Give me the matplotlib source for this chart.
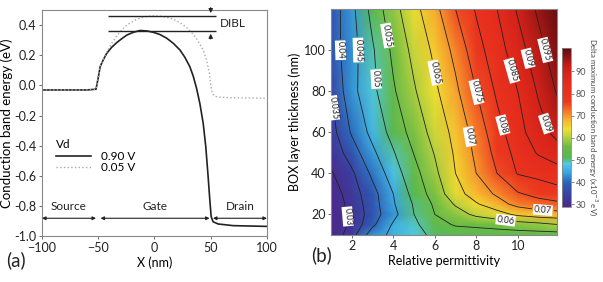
import numpy as np
import matplotlib.pyplot as plt
from matplotlib.colors import LinearSegmentedColormap, Normalize

plt.rcParams['font.family'] = ['Lato', 'DejaVu Sans']
plt.rcParams['axes.edgecolor'] = '#888888'
plt.rcParams['xtick.color'] = '#555555'
plt.rcParams['ytick.color'] = '#555555'
plt.rcParams['xtick.labelcolor'] = '#222222'
plt.rcParams['ytick.labelcolor'] = '#222222'

# (a) conduction band profile along the channel
x_vd090 = [-100, -60, -52, -49.8, -48.3, -45.3, -42.4, -38, -33.5, -29, -24.7, -18.8,
           -12.9, -6.9, -1, 4.9, 10.8, 16.7, 22.6, 27, 31.4, 34.4, 37.4, 40.3, 43.3,
           45.6, 47.7, 49.2, 50.4, 52.1, 56.6, 70, 100]
e_vd090 = [-0.03, -0.03, -0.025, 0.06, 0.125, 0.174, 0.214, 0.254, 0.285, 0.311, 0.334, 0.353,
           0.365, 0.362, 0.353, 0.338, 0.314, 0.28, 0.236, 0.187, 0.125, 0.063, -0.019, -0.118, -0.251,
           -0.406, -0.606, -0.761, -0.871, -0.905, -0.92, -0.931, -0.936]

x_vd005 = [-100, -60, -52, -49.8, -48.3, -45.3, -42.4, -38, -33.5, -29, -24.7, -18.8,
           -12.9, -6.9, -1, 4.9, 10.8, 16.7, 22.6, 28.5, 34.4, 38.8, 43.3, 46.2, 48.6,
           50.1, 51.5, 53.6, 58, 70, 100]
e_vd005 = [-0.03, -0.03, -0.025, 0.06, 0.125, 0.178, 0.222, 0.28, 0.33, 0.37, 0.40, 0.428,
           0.448, 0.458, 0.462, 0.46, 0.453, 0.44, 0.418, 0.385, 0.34, 0.295, 0.235, 0.17, 0.09,
           0.0, -0.055, -0.072, -0.078, -0.082, -0.085]

# (b) delta of maximum conduction band energy (x1e-3 eV)
permittivity = [1, 2, 3, 4, 5, 6, 7, 8, 9, 10, 11, 12]
box_thickness = [10, 15, 20, 25, 30, 40, 50, 60, 80, 100, 120]
delta_e = [
    [26.0, 33.0, 43.0, 46.0, 48.5, 51.0, 52.0, 52.5, 53.0, 53.0, 53.0, 53.0],
    [26.0, 31.0, 39.0, 45.6, 49.0, 53.0, 55.5, 56.0, 56.5, 57.5, 58.5, 60.0],
    [26.0, 31.0, 37.6, 43.5, 50.0, 55.0, 58.0, 61.0, 63.0, 66.0, 67.5, 68.0],
    [26.5, 31.8, 37.8, 44.5, 50.5, 55.8, 60.5, 64.5, 68.0, 71.5, 73.0, 74.0],
    [27.0, 32.6, 38.2, 45.0, 51.7, 57.2, 63.1, 67.3, 70.7, 74.5, 76.5, 78.0],
    [29.5, 34.1, 41.1, 47.6, 53.3, 58.9, 65.0, 70.0, 75.0, 80.3, 81.5, 83.0],
    [31.5, 37.5, 44.0, 49.6, 55.2, 60.3, 65.7, 71.0, 76.5, 81.8, 85.5, 88.0],
    [33.0, 40.6, 46.5, 51.7, 57.0, 61.8, 66.5, 71.9, 78.1, 83.2, 88.0, 92.0],
    [35.0, 43.5, 48.8, 54.4, 59.5, 64.1, 69.0, 75.0, 80.8, 85.0, 90.6, 96.0],
    [37.5, 43.0, 49.4, 56.1, 61.4, 66.0, 71.4, 78.1, 82.9, 87.8, 93.3, 98.5],
    [37.0, 43.7, 51.7, 58.3, 63.5, 68.5, 75.0, 80.5, 85.0, 90.6, 95.9, 100.0],
]
contour_levels = [30, 35, 40, 45, 50, 55, 60, 65, 70, 75, 80, 85, 90, 95]
label_spots = [(1.8, 19), (1.2, 72), (1.55, 100), (2.3, 100), (3.35, 86), (3.65, 107),
               (6.0, 89), (7.75, 58), (8.15, 80), (9.45, 64), (9.7, 90), (10.5, 96),
               (11.3, 64), (11.3, 100), (9.4, 16), (11.2, 21)]

cmap = LinearSegmentedColormap.from_list('igor_rainbow', [
    (0.00, '#4b2a8a'), (0.07, '#3a3fa0'), (0.15, '#2a62b8'), (0.22, '#3aa8e0'),
    (0.27, '#50c8e8'), (0.31, '#58b850'), (0.38, '#6cbc44'), (0.44, '#b8d040'),
    (0.49, '#f0e030'), (0.55, '#f8b030'), (0.61, '#f47028'), (0.66, '#ec3a20'),
    (0.79, '#e42a1c'), (0.89, '#c81e18'), (1.00, '#5a0c10')])
norm = Normalize(vmin=29, vmax=100.5)

fig = plt.figure(figsize=(6.03, 2.82), dpi=100)

# ---------------- (a) ----------------
ax = fig.add_axes([0.0697, 0.163, 0.373, 0.801])
ax.plot(x_vd090, e_vd090, color='#222222', lw=1.2, label='0.90 V')
ax.plot(x_vd005, e_vd005, color='#aaaaaa', lw=1.0, ls=':', label='0.05 V')
ax.set_xlim(-100, 100)
ax.set_ylim(-1.0, 0.5)
ax.set_xticks([-100, -50, 0, 50, 100])
ax.set_yticks([-1.0, -0.8, -0.6, -0.4, -0.2, 0.0, 0.2, 0.4])
ax.yaxis.set_major_formatter(plt.FuncFormatter(lambda v, p: f"{v:.1f}"))
ax.tick_params(labelsize=9, length=2.5, width=0.6, pad=1.5)
ax.set_xlabel('X (nm)', fontsize=9, labelpad=2)
ax.set_ylabel('Conduction band energy (eV)', fontsize=9.5, labelpad=1)

# DIBL marker
ax.hlines([0.462, 0.362], -41, 55, color='#222222', lw=1.0)
ax.annotate('', xy=(50, 0.462), xytext=(50, 0.535), annotation_clip=False,
            arrowprops=dict(arrowstyle='-|>', color='#222222', lw=0.8, mutation_scale=6))
ax.annotate('', xy=(50, 0.362), xytext=(50, 0.29),
            arrowprops=dict(arrowstyle='-|>', color='#222222', lw=0.8, mutation_scale=6))
ax.text(58, 0.41, 'DIBL', fontsize=8.5, va='center', color='#222222')

# source / gate / drain regions
for x0, x1, name in [(-100, -52, 'Source'), (-48, 49, 'Gate'), (52, 100, 'Drain')]:
    ax.annotate('', xy=(x0, -0.882), xytext=(x1, -0.882),
                arrowprops=dict(arrowstyle='<|-|>', color='#222222', lw=0.8, mutation_scale=5,
                                shrinkA=0, shrinkB=0))
    ax.text((x0 + x1) / 2, -0.805, name, fontsize=8.5, ha='center', va='center', color='#222222')

leg = ax.legend(title='Vd', loc='upper left', bbox_to_anchor=(0.04, 0.45), frameon=False,
                fontsize=8.5, title_fontsize=8.5, handlelength=3.0, borderaxespad=0,
                labelspacing=0.05, handletextpad=0.8, alignment='left')
fig.text(0.010, 0.055, '(a)', fontsize=13.5, color='#222222')

# ---------------- (b) ----------------
bx = fig.add_axes([0.549, 0.167, 0.375, 0.801])
eps_grid, t_grid = np.meshgrid(permittivity, box_thickness)
z = np.array(delta_e)
mesh = bx.pcolormesh(eps_grid, t_grid, z, cmap=cmap, norm=norm, shading='gouraud')
cs = bx.contour(eps_grid, t_grid, z, levels=contour_levels, colors='#222222', linewidths=0.6)
labels = bx.clabel(cs, fmt=lambda v: f"{v / 1000:g}", fontsize=6.5, inline=True,
                   inline_spacing=2, manual=label_spots)
for t in labels:
    t.set_bbox(dict(facecolor='white', edgecolor='none', pad=0.6))
bx.set_xlim(1, 11.9)
bx.set_ylim(10, 120)
bx.set_xticks([2, 4, 6, 8, 10])
bx.set_yticks([20, 40, 60, 80, 100])
bx.tick_params(labelsize=9, length=2.5, width=0.6, pad=1.5)
bx.set_xlabel('Relative permittivity', fontsize=9, labelpad=2)
bx.set_ylabel('BOX layer thickness (nm)', fontsize=9, labelpad=2)
fig.text(0.516, 0.075, '(b)', fontsize=13.5, color='#222222')

cax = fig.add_axes([0.932, 0.267, 0.0149, 0.562])
cb = fig.colorbar(mesh, cax=cax, ticks=[30, 40, 50, 60, 70, 80, 90])
cb.outline.set_edgecolor('#888888')
cb.outline.set_linewidth(0.6)
cax.tick_params(labelsize=6.5, length=2, width=0.5, labelcolor='#555555', pad=1.5)
cax.set_ylabel('Delta maximum conduction band energy (x10$^{-3}$ eV)', fontsize=5.6,
               rotation=270, va='bottom', labelpad=0.5, color='#444444')

fig.savefig('out.png', dpi=100)
